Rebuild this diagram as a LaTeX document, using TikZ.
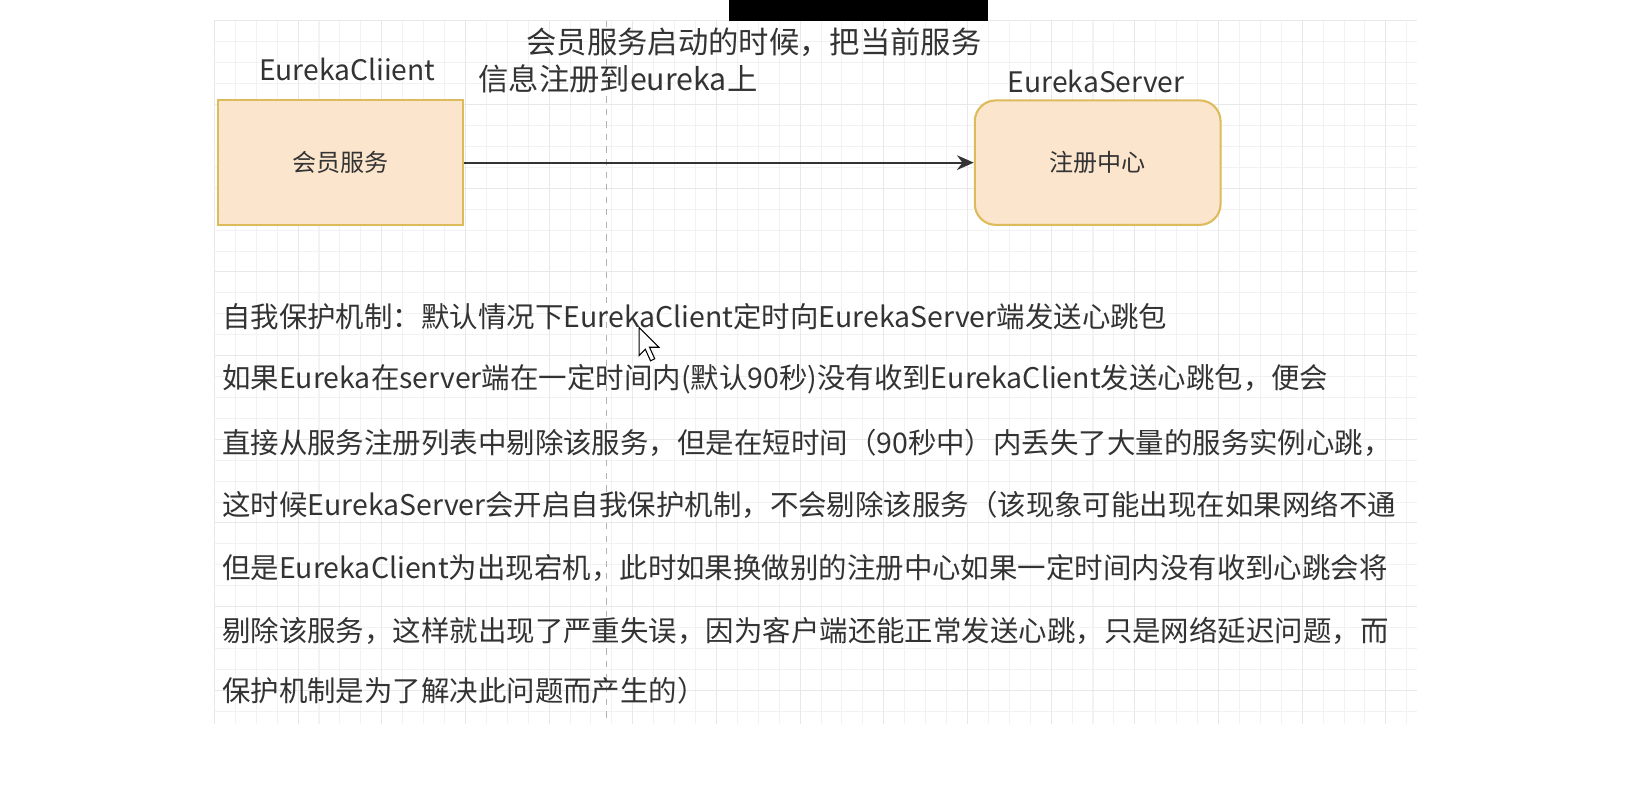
\documentclass[tikz,border=0pt]{standalone}
\usepackage{fontspec}
\setmainfont{Noto Sans CJK SC}
\usetikzlibrary{arrows.meta}
\definecolor{gridc}{HTML}{F2F2F2}
\definecolor{gridm}{HTML}{E8E8E8}
\definecolor{boxfill}{HTML}{FBE5CD}
\definecolor{boxline}{HTML}{DDBB5A}
\definecolor{txt}{HTML}{333333}
\tikzset{
  svc/.style={draw=boxline, fill=boxfill, line width=1pt, minimum width=117.5pt, minimum height=59.5pt, inner sep=0pt, font=\fontsize{11.5pt}{13pt}\selectfont, text=txt},
  lbl/.style={inner sep=0pt, font=\fontsize{13.5pt}{16pt}\selectfont, text=txt},
  elbl/.style={inner sep=0pt, anchor=west, font=\fontsize{14.5pt}{17pt}\selectfont, text=txt},
  body/.style={inner sep=0pt, anchor=west, font=\fontsize{13.6pt}{16pt}\selectfont, text=txt},
  conn/.style={draw=txt, line width=1pt, -{Stealth[length=8pt,width=7pt]}}
}
\begin{document}
\begin{tikzpicture}[x=0.5pt,y=-0.5pt]
\useasboundingbox (0,0) rectangle (1568,749.6);
\fill[white] (0,0) rectangle (1568,749.6);
% grid
\foreach \i in {0,...,57} {\draw[gridc, line width=0.5pt] (205+20*\i,20) -- (205+20*\i,692);}
\foreach \j in {0,...,33} {\draw[gridc, line width=0.5pt] (205,20+20*\j) -- (1355,20+20*\j);}
\foreach \i in {0,...,14} {\draw[gridm, line width=0.5pt] (205+80*\i,20) -- (205+80*\i,692);}
\foreach \j in {0,...,8} {\draw[gridm, line width=0.5pt] (205,20+80*\j) -- (1355,20+80*\j);}
% dashed guide
\draw[gray!60, dashed, line width=0.5pt] (580,20) -- (580,692);
% black bar at top
\fill[black] (697,0) rectangle (945,20);
% boxes
\node[svc, rectangle] (client) at (325.5,155.5) {会员服务};
\node[svc, rectangle, rounded corners=10pt] (server) at (1049.5,155.5) {注册中心};
\node[lbl] (clientlbl) at (332,66) {EurekaCliient};
\node[lbl] (serverlbl) at (1048,78) {EurekaServer};
\draw[conn] (client) -- (server);
\node[elbl] (lbla) at (503,40) {会员服务启动的时候，把当前服务};
\node[elbl] (lblb) at (457,75) {信息注册到eureka上};
% body text
\node[body] (t1) at (212,303) {自我保护机制：默认情况下EurekaClient定时向EurekaServer端发送心跳包};
\node[body] (t2) at (212,363) {如果Eureka在server端在一定时间内(默认90秒)没有收到EurekaClient发送心跳包，便会};
\node[body] (t3) at (212,423) {直接从服务注册列表中剔除该服务，但是在短时间（90秒中）内丢失了大量的服务实例心跳，};
\node[body] (t4) at (212,483) {这时候EurekaServer会开启自我保护机制，不会剔除该服务（该现象可能出现在如果网络不通};
\node[body] (t5) at (212,543) {但是EurekaClient为出现宕机，此时如果换做别的注册中心如果一定时间内没有收到心跳会将};
\node[body] (t6) at (212,603) {剔除该服务，这样就出现了严重失误，因为客户端还能正常发送心跳，只是网络延迟问题，而};
\node[body] (t7) at (212,660) {保护机制是为了解决此问题而产生的）};
% mouse cursor
\draw[fill=white, line width=0.5pt] (611,313) -- (611,340) -- (617,334) -- (622,345) -- (626,343) -- (621,332) -- (630,332) -- cycle;
\end{tikzpicture}
\end{document}
